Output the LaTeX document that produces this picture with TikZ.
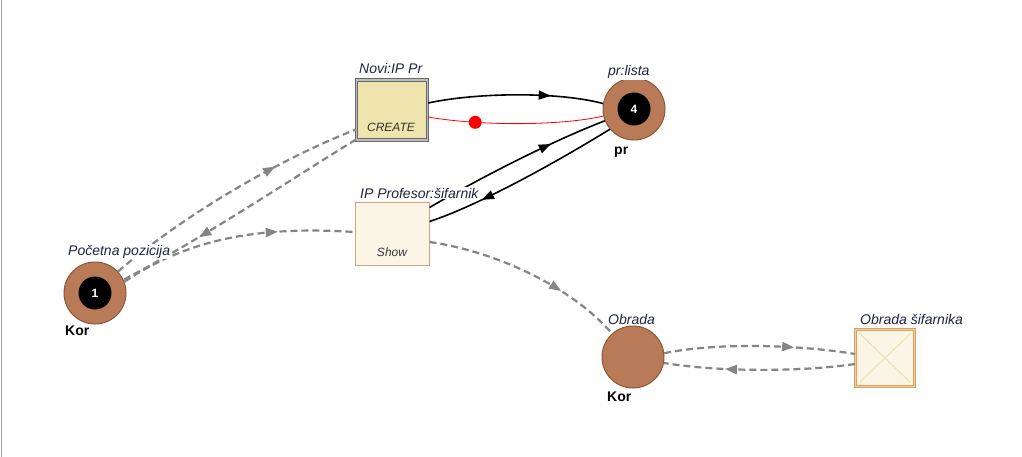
\documentclass[tikz,border=0pt]{standalone}
\usepackage{fontspec}
\setmainfont{Liberation Sans}
\usetikzlibrary{arrows.meta,decorations.markings}
\definecolor{placefill}{HTML}{B97A57}
\definecolor{placeborder}{HTML}{8E5638}
\definecolor{labelblue}{HTML}{1E2440}
\definecolor{arcgray}{HTML}{858585}
\definecolor{khaki}{HTML}{EFE3AE}
\definecolor{cream}{HTML}{FBF5E6}
\definecolor{creamborder}{HTML}{D9A07A}
\definecolor{orangeborder}{HTML}{DDA062}
\definecolor{orangelight}{HTML}{F2CE98}
\definecolor{xline}{HTML}{EEDFB0}
\begin{document}
\begin{tikzpicture}[x=1pt,y=-1pt,
  place/.style={circle, fill=placefill, draw=placeborder, line width=1pt, minimum size=62pt, inner sep=0pt},
  token/.style={circle, fill=black, minimum size=33pt, inner sep=0pt, text=white, font=\bfseries\fontsize{12}{12}\selectfont},
  lbl/.style={font=\itshape\fontsize{14}{16}\selectfont, text=labelblue, inner sep=1pt, fill=white, anchor=base west},
  ownlbl/.style={font=\bfseries\fontsize{14}{16}\selectfont, anchor=base west, inner sep=0pt},
  trlbl/.style={font=\itshape\fontsize{12}{14}\selectfont, text=black!80, inner sep=0pt},
  darc/.style={arcgray, line width=2.2pt, dash pattern=on 7pt off 4pt},
  sarc/.style={black, line width=1.6pt},
  midarrow/.style={postaction={decorate}, decoration={markings, mark=at position #1 with {\arrow{Triangle[length=12pt,width=9pt]}}}},
  trkhaki/.style={rectangle, fill=khaki, draw=black!60, double=black!25, double distance=1.6pt, line width=0.9pt, minimum width=71pt, minimum height=60pt, inner sep=0pt},
  trcream/.style={rectangle, fill=cream, draw=creamborder, line width=1pt, minimum width=74pt, minimum height=62pt, inner sep=0pt},
  trorange/.style={rectangle, fill=cream, draw=orangeborder, double=orangelight, double distance=1.8pt, line width=0.9pt, minimum width=59pt, minimum height=57pt, inner sep=0pt}
]
\useasboundingbox (0,0) rectangle (1022,457);
\fill[white] (0,0) rectangle (1022,457);
\draw[black!35, line width=1pt] (1,0) -- (1,457);

% nodes
\node[place] (poc) at (95,293) {};
\node[token] (poctok) at (poc) {1};
\node[trkhaki] (novi) at (392,110) {};
\node[place] (prl) at (634,109) {};
\node[token] (prltok) at (prl) {4};
\node[trcream] (ipp) at (392,234) {};
\node[place] (obr) at (633,357) {};
\node[trorange] (obs) at (885,358) {};
\draw[xline, line width=1pt] ([shift={(4pt,-4pt)}]obs.north west) -- ([shift={(-4pt,4pt)}]obs.south east);
\draw[xline, line width=1pt] ([shift={(-4pt,-4pt)}]obs.north east) -- ([shift={(4pt,4pt)}]obs.south west);

% dashed arcs
\draw[darc, midarrow=0.68] (poc.43) .. controls (175,222) and (270,163) .. ([yshift=11pt]novi.south west);
\draw[darc, midarrow=0.68] ([yshift=1pt]novi.south west) .. controls (290,180) and (200,240) .. (poc.25);
\draw[darc, midarrow=0.68] (poc.21) .. controls (190,238) and (260,226) .. ([yshift=2pt]ipp.west);
\draw[darc, midarrow=0.68] ([yshift=-8pt]ipp.east) .. controls (500,252) and (575,290) .. (obr.132);
\draw[darc, midarrow=0.68] (obr.7) .. controls (720,342) and (800,345) .. ([yshift=4pt]obs.west);
\draw[darc, midarrow=0.68] ([yshift=-6pt]obs.west) .. controls (800,372) and (720,372) .. (obr.349);

% solid arcs
\draw[sarc, midarrow=0.7] ([yshift=7pt]novi.east) .. controls (480,92) and (560,92) .. (prl.170);
\draw[red, line width=0.8pt, postaction={decorate}, decoration={markings, mark=at position 0.27 with {\fill[red] (0,0) circle (6.5pt);}}] ([yshift=-7pt]novi.east) .. controls (480,126) and (560,126) .. (prl.193);
\draw[sarc, midarrow=0.7] ([yshift=-5pt]ipp.north east) .. controls (480,178) and (550,142) .. (prl.202);
\draw[sarc, midarrow=0.72] (prl.220) .. controls (560,160) and (480,205) .. ([yshift=-19pt]ipp.north east);

% transition inner texts
\node[trlbl] (novitxt) at (391,127) {CREATE};
\node[trlbl] (ipptxt) at (392,252) {Show};

% labels
\node[lbl] (poclbl) at (67,255) {Početna pozicija};
\node[lbl] (novilbl) at (358,74) {Novi:IP Pr};
\node[lbl] (prllbl) at (607,76) {pr:lista};
\node[lbl] (ipplbl) at (359,198) {IP Profesor:šifarnik};
\node[lbl] (obrlbl) at (607,324) {Obrada};
\node[lbl] (obslbl) at (859,324) {Obrada šifarnika};
\node[ownlbl] (pocown) at (65,335) {Kor};
\node[ownlbl] (prlown) at (614,155) {pr};
\node[ownlbl] (obrown) at (607,401) {Kor};
\end{tikzpicture}
\end{document}
